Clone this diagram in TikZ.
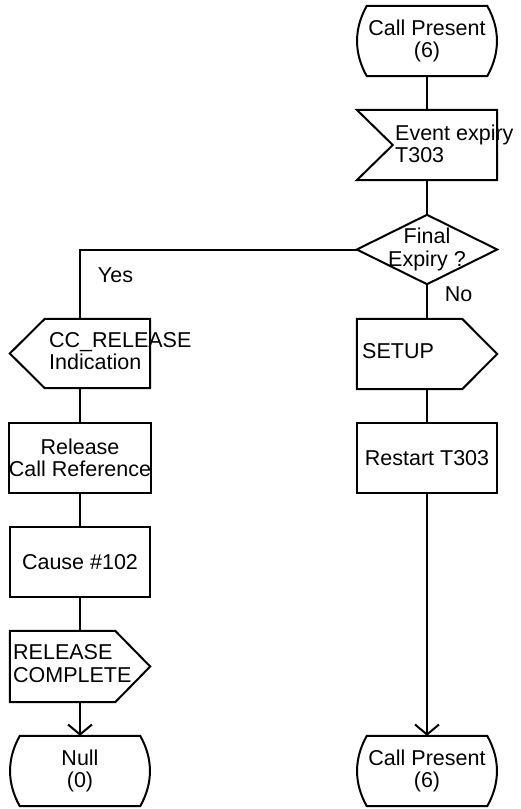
\documentclass[tikz,border=0pt]{standalone}
\usepackage{fontspec}
\setmainfont{Liberation Sans}
\usetikzlibrary{arrows.meta}
\begin{document}
\begin{tikzpicture}[x=1pt,y=-1pt,
  every node/.style={font=\fontsize{21.5}{22.5}\selectfont},
  frame/.style={draw=none, minimum width=140pt, inner sep=0pt, align=center},
  shp/.style={line width=2pt, line join=miter},
  ln/.style={line width=2pt},
  arr/.style={line width=2pt, -{Straight Barb[length=10pt,width=24pt,line width=2pt]}},
  txt/.style={inner sep=0pt, align=left},
  task/.style={draw, line width=2pt, minimum width=140pt, minimum height=70pt, inner sep=0pt, align=center}
]
\useasboundingbox (0,0) rectangle (520,809);

% nodes
\node[frame, minimum height=70pt] (st1) at (427,41) {Call Present\\(6)};
\node[frame, minimum height=70pt] (ev) at (427,145) {};
\node[frame, minimum height=69pt] (dec) at (427,249.5) {Final\\Expiry ?};
\node[frame, minimum height=69pt] (ccrel) at (80,353.5) {};
\node[task] (rel) at (80,458) {Release\\Call Reference};
\node[task] (cause) at (80,562) {Cause \#102};
\node[frame, minimum height=71pt] (rc) at (80,666.5) {};
\node[frame, minimum height=70pt] (null) at (80,771) {Null\\(0)};
\node[frame, minimum height=70pt] (setup) at (427,354) {};
\node[task] (restart) at (427,458) {Restart T303};
\node[frame, minimum height=70pt] (st2) at (427,771) {Call Present\\(6)};

% texts of signal symbols
\node[txt, anchor=west] (evtext) at (395,144) {Event expiry\\T303};
\node[txt, anchor=west] (ccreltext) at (49,351) {CC\_RELEASE\\Indication};
\node[txt, anchor=west] (rctext) at (13,663.5) {RELEASE\\COMPLETE};
\node[txt, anchor=west] (setuptext) at (362,351) {SETUP};
\node[txt] (yes) at (115.5,275) {Yes};
\node[txt] (no) at (458.5,294) {No};

% outlines: state symbols
\foreach \s in {st1,null,st2}{
  \draw[shp] ([xshift=10pt]\s.north west) -- ([xshift=-10pt]\s.north east)
    .. controls ([xshift=3pt,yshift=-23pt]\s.north east) and ([xshift=3pt,yshift=23pt]\s.south east) ..
    ([xshift=-10pt]\s.south east) -- ([xshift=10pt]\s.south west)
    .. controls ([xshift=-3pt,yshift=23pt]\s.south west) and ([xshift=-3pt,yshift=-23pt]\s.north west) ..
    cycle;
}
% input signal
\draw[shp] (ev.north west) -- (ev.north east) -- (ev.south east) -- (ev.south west) -- ([xshift=36pt]ev.west) -- cycle;
% decision
\draw[shp] (dec.north) -- (dec.east) -- (dec.south) -- (dec.west) -- cycle;
% internal signal pointing left
\draw[shp] (ccrel.west) -- ([xshift=35pt]ccrel.north west) -- (ccrel.north east) -- (ccrel.south east) -- ([xshift=35pt]ccrel.south west) -- cycle;
% output signals
\draw[shp] (rc.north west) -- ([xshift=-35pt]rc.north east) -- (rc.east) -- ([xshift=-35pt]rc.south east) -- (rc.south west) -- cycle;
\draw[shp] (setup.north west) -- ([xshift=-35pt]setup.north east) -- (setup.east) -- ([xshift=-35pt]setup.south east) -- (setup.south west) -- cycle;

% connectors
\draw[ln] (st1.south) -- (ev.north);
\draw[ln] (ev.south) -- (dec.north);
\draw[ln] (dec.west) -| (ccrel.north);
\draw[ln] (dec.south) -- (setup.north);
\draw[ln] (ccrel.south) -- (rel.north);
\draw[ln] (rel.south) -- (cause.north);
\draw[ln] (cause.south) -- (rc.north);
\draw[arr] (rc.south) -- (null.north);
\draw[ln] (setup.south) -- (restart.north);
\draw[arr] (restart.south) -- (st2.north);
\end{tikzpicture}
\end{document}
